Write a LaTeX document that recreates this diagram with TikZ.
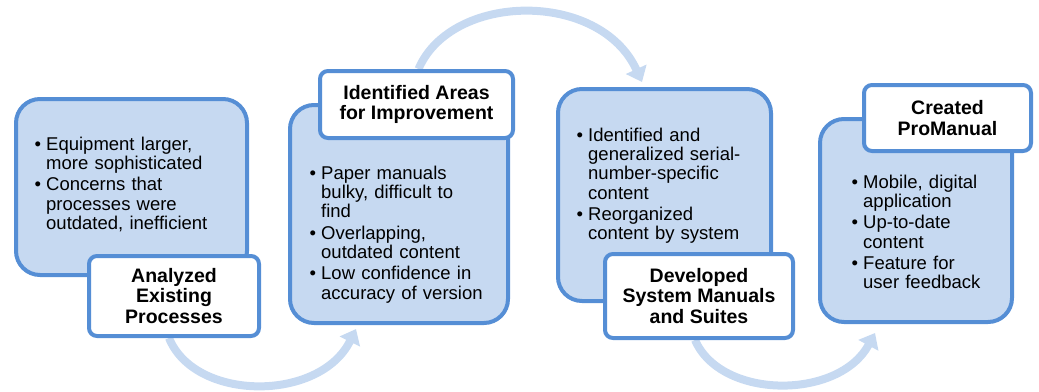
\documentclass[tikz,border=0pt]{standalone}
\usepackage{fontspec}
\setmainfont{Liberation Sans}
\usetikzlibrary{arrows.meta,backgrounds}
\definecolor{edgeblue}{HTML}{558ED5}
\definecolor{fillblue}{HTML}{C6D9F1}
\definecolor{flowblue}{HTML}{C6D9F1}
\newenvironment{blist}{\begin{list}{\textbullet}{\setlength{\leftmargin}{12pt}\setlength{\labelsep}{5pt}\setlength{\labelwidth}{7pt}\setlength{\itemsep}{2pt}\setlength{\parsep}{0pt}\setlength{\topsep}{0pt}\setlength{\partopsep}{0pt}\setlength{\itemindent}{0pt}}}{\end{list}}
\newcommand{\bodyfont}{\fontsize{18.5}{19.3}\selectfont}
\newcommand{\headfont}{\fontsize{19.5}{20.5}\selectfont\bfseries}
\tikzset{
  bluebox/.style={draw=edgeblue, fill=fillblue, line width=4pt, rounded corners=24pt, inner sep=0pt},
  labbox/.style={draw=edgeblue, fill=white, line width=4pt, rounded corners=8pt, inner sep=0pt, align=center, font=\headfont},
  txt/.style={anchor=north west, inner sep=0pt, text width=215pt, align=left, font=\bodyfont},
  flow/.style={draw=flowblue, line width=8pt, -{Triangle[width=22pt,length=14pt]}}
}
\begin{document}
\begin{tikzpicture}[x=1pt,y=-1pt]
\useasboundingbox (0,0) rectangle (1039,391);
% boxes
\node[bluebox, minimum width=231pt, minimum height=176pt] (b1) at (131.5,187) {};
\node[bluebox, minimum width=218pt, minimum height=218pt] (b2) at (399,214) {};
\node[bluebox, minimum width=213pt, minimum height=212pt] (b3) at (664.5,195) {};
\node[bluebox, minimum width=192pt, minimum height=203pt] (b4) at (916,220.5) {};
% bullet texts
\node[txt] (t1) at (34,130.8) {\begin{blist}\item Equipment larger,\newline more sophisticated\item Concerns that\newline processes were\newline outdated, inefficient\end{blist}};
\node[txt] (t2) at (309,159.8) {\begin{blist}\item Paper manuals\newline bulky, difficult to\newline find\item Overlapping,\newline outdated content\item Low confidence in\newline accuracy of version\end{blist}};
\node[txt] (t3) at (576,121.8) {\begin{blist}\item Identified and\newline generalized serial-\newline number-specific\newline content\item Reorganized\newline content by system\end{blist}};
\node[txt] (t4) at (851,168.8) {\begin{blist}\item Mobile, digital\newline application\item Up-to-date\newline content\item Feature for\newline user feedback\end{blist}};
% labels
\node[labbox, minimum width=170pt, minimum height=80pt] (lab1) at (174,296) {Analyzed\\Existing\\Processes};
\node[labbox, minimum width=193pt, minimum height=67pt] (lab2) at (416.5,104.5) {Identified Areas\\for Improvement};
\node[labbox, minimum width=188pt, minimum height=84pt] (lab3) at (699,296) {Developed\\System Manuals\\and Suites};
\node[labbox, minimum width=167pt, minimum height=66pt] (lab4) at (947.5,118) {Created\\ProManual};
% arrows
\begin{scope}[on background layer]
\draw[flow] ([xshift=-5pt]lab1.south) .. controls +(26,64) and +(-36,73) .. ([shift={(68,4)}]b2.south west);
\draw[flow] ([xshift=2pt]lab2.north) .. controls +(33,-77) and +(-42,-92) .. ([shift={(86,-5)}]b3.north west);
\draw[flow] ([xshift=-4pt]lab3.south) .. controls +(26,60) and +(-36,67) .. ([shift={(57,9)}]b4.south west);
\end{scope}
\end{tikzpicture}
\end{document}
